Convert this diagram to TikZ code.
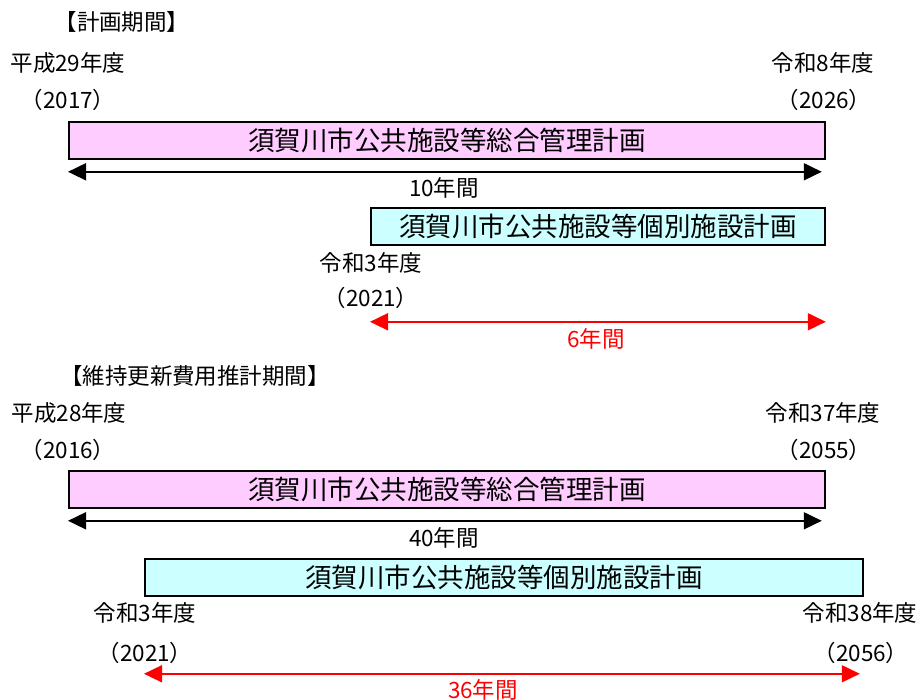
\documentclass[tikz,border=0pt]{standalone}
\usepackage{fontspec}
\setmainfont{Noto Sans CJK JP}
\usetikzlibrary{arrows.meta}
\definecolor{planpink}{RGB}{255,204,255}
\definecolor{plancyan}{RGB}{204,255,255}
\tikzset{
	planbox/.style={draw, line width=1.8pt, minimum height=37pt, inner sep=0pt,
		anchor=north west, font=\fontsize{26.5}{26.5}\selectfont},
	lbl/.style={inner sep=0pt, font=\fontsize{22.5}{22.5}\selectfont},
	span/.style={line width=1.8pt,
		{Triangle[length=18pt,width=17pt]}-{Triangle[length=18pt,width=17pt]}},
}
\newcommand{\yearlabel}[4]{   % name, x, y, text
	\node[lbl] (#1) at (#2, #3) {#4};
}

\begin{document}
\begin{tikzpicture}[x=1pt, y=-1pt]
\useasboundingbox (0, 0) rectangle (922, 700);

% planning period
\node[lbl] (title1) at (122, 22) {【計画期間】};
\yearlabel{start1}{68}{63}{平成29年度}
\yearlabel{start1y}{68}{100}{（2017）}
\yearlabel{end1}{823}{63}{令和8年度}
\yearlabel{end1y}{824}{100}{（2026）}

\node[planbox, fill=planpink, minimum width=756pt] (sogo1) at (68, 121) {須賀川市公共施設等総合管理計画};
\draw[span] ([yshift=-12pt]sogo1.south west) -- ([yshift=-12pt, xshift=-4pt]sogo1.south east);
\yearlabel{len1}{444}{188}{10年間}

\node[planbox, fill=plancyan, minimum width=454pt] (kobetsu1) at (370, 207) {須賀川市公共施設等個別施設計画};
\yearlabel{start2}{371}{263}{令和3年度}
\yearlabel{start2y}{371}{298}{（2021）}
\draw[span, red] ([yshift=-76pt]kobetsu1.south west) -- ([yshift=-76pt]kobetsu1.south east);
\node[lbl, text=red] (len2) at (596, 339) {6年間};

% cost estimate period
\node[lbl] (title2) at (195, 376) {【維持更新費用推計期間】};
\yearlabel{start3}{69}{413}{平成28年度}
\yearlabel{start3y}{68}{450}{（2016）}
\yearlabel{end3}{823}{413}{令和37年度}
\yearlabel{end3y}{824}{450}{（2055）}

\node[planbox, fill=planpink, minimum width=756pt] (sogo2) at (68, 470) {須賀川市公共施設等総合管理計画};
\draw[span] ([yshift=-12pt]sogo2.south west) -- ([yshift=-12pt, xshift=-4pt]sogo2.south east);
\yearlabel{len3}{444}{538}{40年間}

\node[planbox, fill=plancyan, minimum width=718pt] (kobetsu2) at (144, 558) {須賀川市公共施設等個別施設計画};
\yearlabel{start4}{145}{613}{令和3年度}
\yearlabel{start4y}{145}{653}{（2021）}
\yearlabel{end4}{860}{613}{令和38年度}
\yearlabel{end4y}{861}{653}{（2056）}
\draw[span, red] ([yshift=-77pt]kobetsu2.south west) -- ([yshift=-77pt, xshift=-4pt]kobetsu2.south east);
\node[lbl, text=red] (len4) at (483, 690) {36年間};
\end{tikzpicture}
\end{document}
